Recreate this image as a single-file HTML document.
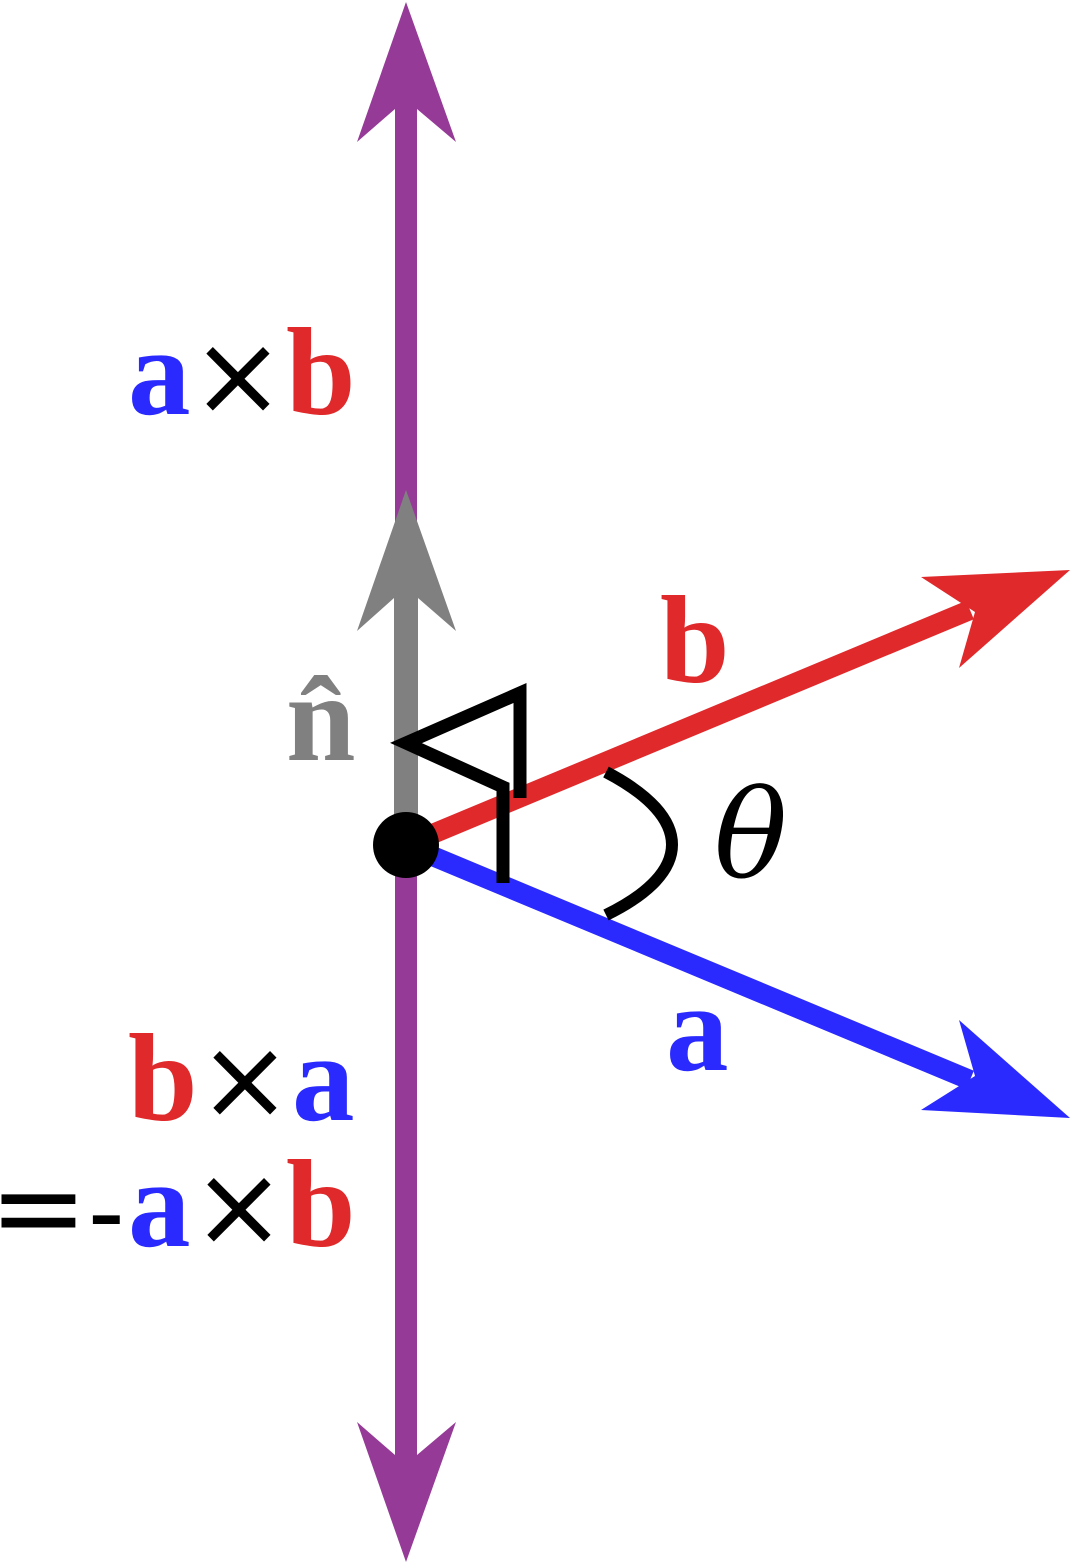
<!DOCTYPE html>
<html><head><meta charset="utf-8"><style>html,body{margin:0;padding:0;background:#fff}svg{display:block}</style></head><body>
<svg width="1071" height="1563" viewBox="0 0 1071 1563" xmlns="http://www.w3.org/2000/svg">
<g fill="#953a96">
<rect x="395" y="100" width="22" height="1360"/>
<polygon points="406,2 456,142 417,109 395,109 357,142"/>
<polygon points="406,1562 456,1422 417,1455 395,1455 357,1422"/>
</g>
<g fill="#808080">
<rect x="394" y="595" width="24" height="250"/>
<polygon points="406,490 456,631 418,598 394,598 357,631"/>
</g>
<line x1="406" y1="845" x2="970" y2="610" stroke="#e0292b" stroke-width="20"/>
<polygon fill="#e0292b" points="921,577 1070,570 959,668 975,612"/>
<line x1="406" y1="845" x2="970" y2="1080" stroke="#2a2aff" stroke-width="20"/>
<polygon fill="#2a2aff" points="921,1110 1070,1118 959,1020 975,1076"/>
<path d="M606,772 C694,818 694,872 606,915" fill="none" stroke="#000" stroke-width="12"/>
<polyline points="520,798 520,693 406,743 503,787 503,883" fill="none" stroke="#000" stroke-width="13"/>
<circle cx="406" cy="845" r="33" fill="#000"/>
<g font-family="Liberation Serif, serif" font-weight="bold" font-size="125">
<text x="128" y="414" fill="#2a2aff">a</text>
<text x="286" y="414" fill="#e0292b">b</text>
<text x="660" y="682" fill="#e0292b">b</text>
<text x="666" y="1070" fill="#2a2aff">a</text>
<text x="286" y="760" fill="#808080">n̂</text>
<text x="128" y="1120" fill="#e0292b">b</text>
<text x="292" y="1120" fill="#2a2aff">a</text>
<text x="128" y="1246" fill="#2a2aff">a</text>
<text x="286" y="1246" fill="#e0292b">b</text>
</g>
<g font-family="DejaVu Sans, sans-serif" font-size="112" fill="#000">
<text x="191" y="414">×</text>
<text x="198" y="1118">×</text>
<text x="192" y="1245">×</text>
<text x="-11" y="1248" font-size="118">=</text>
</g>
<text x="88" y="1249" font-family="Liberation Sans, sans-serif" font-size="110" fill="#000">-</text>
<text x="714" y="877" font-family="DejaVu Serif, serif" font-style="italic" font-size="122" fill="#000">θ</text>
</svg>
</body></html>
